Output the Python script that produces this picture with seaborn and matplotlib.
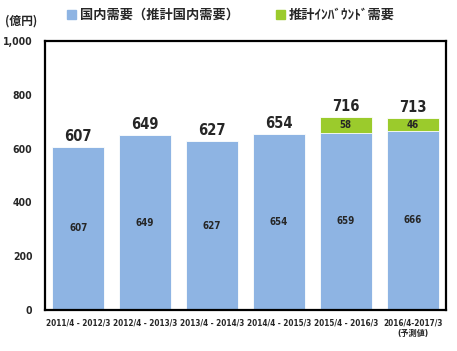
import numpy as np
import pandas as pd
import matplotlib
matplotlib.use("Agg")
import matplotlib.pyplot as plt
import seaborn as sns

# data
periods = ["2011/4 - 2012/3", "2012/4 - 2013/3", "2013/4 - 2014/3",
           "2014/4 - 2015/3", "2015/4 - 2016/3", "2016/4-2017/3\n(予測値)"]
domestic = [607, 649, 627, 654, 659, 666]
inbound = [0, 0, 0, 0, 58, 46]
totals = [607, 649, 627, 654, 716, 713]

sns.set_style("white")
plt.rcParams['font.family'] = ['DejaVu Sans', 'Noto Sans CJK JP']
narrow = ['DejaVu Sans', 'Noto Sans CJK JP']

df = pd.DataFrame({"period": periods, "domestic": domestic,
                   "inbound": inbound, "total": totals})

blue = "#8EB4E3"
green = "#9BCB2C"

fig = plt.figure(figsize=(4.57, 3.51), dpi=100)
ax = fig.add_axes([0.098, 0.117, 0.878, 0.766])

# stacked: draw totals in green, then domestic on top in blue
sns.barplot(df, x="period", y="total", color=green, width=0.78,
            saturation=1, ax=ax, edgecolor="white", linewidth=0.6)
sns.barplot(df, x="period", y="domestic", color=blue, width=0.78,
            saturation=1, ax=ax, edgecolor="white", linewidth=0.6)

for i, (d, g, t) in enumerate(zip(domestic, inbound, totals)):
    ax.text(i, d / 2, f"{d}", ha="center", va="center", fontstretch="condensed",
            fontsize=7, fontweight="bold", family=narrow)
    if g > 0:
        ax.text(i, d + g / 2, f"{g}", ha="center", va="center",
                fontstretch="condensed",
                fontsize=7, fontweight="bold", family=narrow)
    ax.text(i, t + 12, f"{t}", ha="center", va="bottom", fontstretch="condensed",
            fontsize=10.5, fontweight="bold", family=narrow)

ax.set_ylim(0, 1000)
ax.set_xlim(-0.5, 5.5)
ax.set_yticks(range(0, 1001, 200))
ax.set_yticklabels(["0", "200", "400", "600", "800", "1,000"],
                   fontsize=7.5, fontweight="bold", family=narrow,
                   fontstretch="condensed")
ax.tick_params(axis="x", length=0, pad=6)
for lbl in ax.get_xticklabels():
    lbl.set_fontweight("bold")
    lbl.set_family(narrow)
    lbl.set_fontstretch("condensed")
    lbl.set_fontsize(5.9)
ax.tick_params(axis="y", length=0, pad=9)
ax.set_xlabel("")
ax.set_ylabel("")
for s in ax.spines.values():
    s.set_color("black")
    s.set_linewidth(1.6)

fig.text(0.012, 0.94, "(億円)", fontsize=8.5, fontweight="bold", va="center",
         family=['Noto Sans CJK JP'])

handles = [plt.Rectangle((0, 0), 1, 1, color=blue),
           plt.Rectangle((0, 0), 1, 1, color=green)]
fig.legend(handles, ["国内需要（推計国内需要）", "推計ｲﾝﾊﾞｳﾝﾄﾞ需要"],
           loc="center", bbox_to_anchor=(0.505, 0.957), ncol=2, frameon=False,
           prop={"weight": "bold", "size": 9.5, "family": ['Noto Sans CJK JP']},
           handlelength=0.7, handleheight=0.7, handletextpad=0.3,
           columnspacing=2.8)

fig.savefig("out.png", dpi=100)
